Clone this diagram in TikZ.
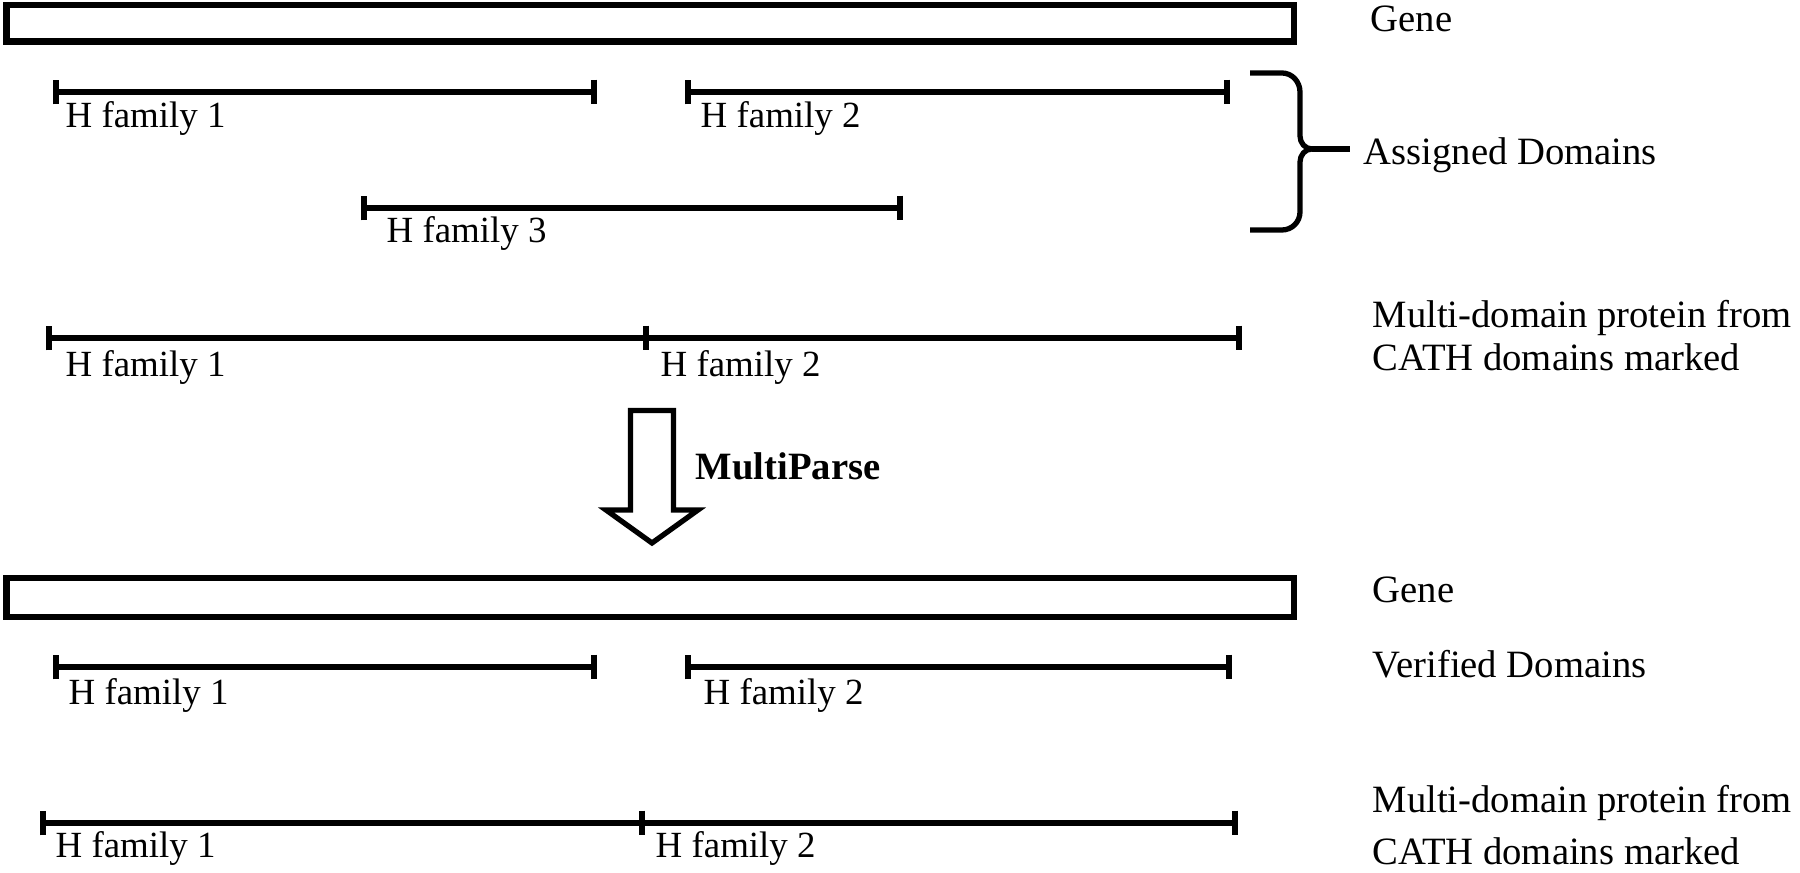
\documentclass[tikz,border=0pt]{standalone}
\usepackage{fontspec}
\setmainfont{Liberation Serif}
\usetikzlibrary{arrows.meta}

\begin{document}
\begin{tikzpicture}[
    genebox/.style={line width=1.9pt},
    dombar/.style={line width=1.6pt, {Bar[width=7pt]}-{Bar[width=7pt]}},
    dombarend/.style={line width=1.6pt, -{Bar[width=7pt]}},
    famlabel/.style={anchor=base west, inner sep=0pt, font=\fontsize{10.5}{12}\selectfont},
    sidelabel/.style={anchor=base west, inner sep=0pt, align=left, font=\fontsize{11}{12.5}\selectfont},
    bracket/.style={line width=1.5pt, line join=round},
    bigarrow/.style={line width=1.5pt, line join=miter}
]
    \useasboundingbox (0,0) rectangle (18,-8.73);

    % gene, top
    \coordinate (G1a) at (0.065,-0.05);
    \coordinate (G1b) at (12.94,-0.415);
    \draw[genebox] (G1a) rectangle (G1b);
    \node[sidelabel] (gene1) at (13.70,-0.32) {Gene};

    % assigned domains
    \coordinate (A1s) at (0.53,-0.92);
    \coordinate (A1e) at (5.97,-0.92);
    \coordinate (A2s) at (6.85,-0.92);
    \coordinate (A2e) at (12.30,-0.92);
    \coordinate (A3s) at (3.61,-2.08);
    \coordinate (A3e) at (9.03,-2.08);
    \draw[dombar] (A1s) -- (A1e);
    \draw[dombar] (A2s) -- (A2e);
    \draw[dombar] (A3s) -- (A3e);
    \node[famlabel] (a1) at (0.65,-1.28) {H family 1};
    \node[famlabel] (a2) at (7.00,-1.28) {H family 2};
    \node[famlabel] (a3) at (3.86,-2.43) {H family 3};

    % brace
    \coordinate (Btop) at (12.50,-0.73);
    \coordinate (Bbot) at (12.50,-2.30);
    \coordinate (Btip) at (13.12,-1.49);
    \coordinate (Bend) at (13.50,-1.49);
    \draw[bracket] (Btop) -- (12.82,-0.73) to[out=0,in=90] (13.00,-0.92) -- (13.00,-1.36)
        to[out=-90,in=180] (Btip) to[out=180,in=90] (13.00,-1.62) -- (13.00,-2.12)
        to[out=-90,in=0] (12.82,-2.30) -- (Bbot);
    \draw[bracket] (Btip) -- (Bend);
    \node[sidelabel] (assigned) at (13.63,-1.65) {Assigned Domains};

    % multi-domain protein
    \coordinate (M1a) at (0.46,-3.38);
    \coordinate (M1b) at (6.49,-3.38);
    \coordinate (M1c) at (12.42,-3.38);
    \draw[dombar] (M1a) -- (M1b);
    \draw[dombarend] (M1b) -- (M1c);
    \node[famlabel] (m1) at (0.65,-3.77) {H family 1};
    \node[famlabel] (m2) at (6.60,-3.77) {H family 2};
    \node[sidelabel] (cath1) at (13.72,-3.71) {Multi-domain protein from\\CATH domains marked};

    % MultiParse arrow
    \draw[bigarrow] (6.305,-4.105) -- (6.735,-4.105) -- (6.735,-5.10) -- (6.98,-5.10)
        -- (6.52,-5.43) -- (6.06,-5.10) -- (6.305,-5.10) -- cycle;
    \node[sidelabel, font=\fontsize{11}{12.5}\selectfont\bfseries] (parse) at (6.95,-4.80) {MultiParse};

    % gene, bottom
    \coordinate (G2a) at (0.065,-5.78);
    \coordinate (G2b) at (12.94,-6.17);
    \draw[genebox] (G2a) rectangle (G2b);
    \node[sidelabel] (gene2) at (13.72,-6.03) {Gene};

    % verified domains
    \coordinate (V1s) at (0.53,-6.67);
    \coordinate (V1e) at (5.97,-6.67);
    \coordinate (V2s) at (6.85,-6.67);
    \coordinate (V2e) at (12.32,-6.67);
    \draw[dombar] (V1s) -- (V1e);
    \draw[dombar] (V2s) -- (V2e);
    \node[famlabel] (v1) at (0.68,-7.05) {H family 1};
    \node[famlabel] (v2) at (7.03,-7.05) {H family 2};
    \node[sidelabel] (verified) at (13.72,-6.78) {Verified Domains};

    % multi-domain protein, bottom
    \coordinate (M2a) at (0.40,-8.23);
    \coordinate (M2b) at (6.45,-8.23);
    \coordinate (M2c) at (12.38,-8.23);
    \draw[dombar] (M2a) -- (M2b);
    \draw[dombarend] (M2b) -- (M2c);
    \node[famlabel] (n1) at (0.55,-8.58) {H family 1};
    \node[famlabel] (n2) at (6.55,-8.58) {H family 2};
    \node[sidelabel] (cath2) at (13.72,-8.65) {Multi-domain protein from\\[2.3pt]CATH domains marked};

\end{tikzpicture}
\end{document}
